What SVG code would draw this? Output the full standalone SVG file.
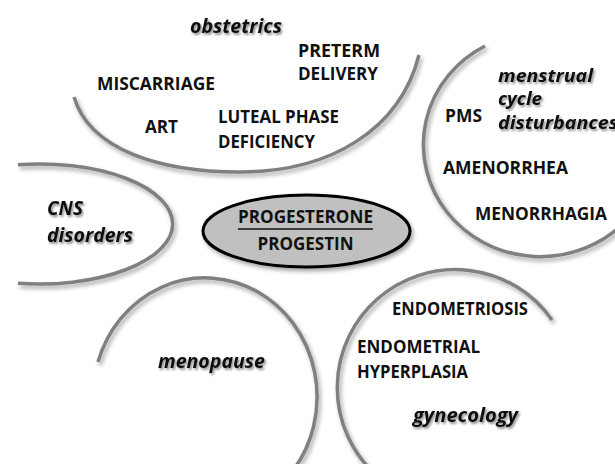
<svg xmlns="http://www.w3.org/2000/svg" width="615" height="464" viewBox="0 0 615 464">
<defs>
<filter id="arcShadow" x="-20%" y="-20%" width="140%" height="140%">
<feDropShadow dx="2" dy="3" stdDeviation="2" flood-color="#000" flood-opacity="0.35"/>
</filter>
<filter id="txtShadow" x="-10%" y="-30%" width="130%" height="170%">
<feDropShadow dx="1.5" dy="2" stdDeviation="1.2" flood-color="#000" flood-opacity="0.45"/>
</filter>
</defs>
<style>
.arc{fill:none;stroke:#808080;stroke-width:3.5;stroke-linecap:butt;filter:url(#arcShadow)}
.cap{font-family:"Open Sans","Liberation Sans",sans-serif;font-weight:bold;font-size:17px;fill:#111}
.ttl{font-family:"Open Sans","Liberation Sans",sans-serif;font-weight:bold;font-style:italic;font-size:19px;fill:#111;filter:url(#txtShadow)}
.sm{font-size:17px}
.ctr{font-family:"Open Sans","Liberation Sans",sans-serif;font-weight:bold;font-size:17px;fill:#111;text-anchor:middle}
</style>
<rect width="615" height="464" fill="#fff"/>

<g id="obstetrics">
<path class="arc" d="M74,97 C90,150 160,172 240,172 C330,172 400,130 419,55"/>
<text class="ttl" x="190" y="33" textLength="92" lengthAdjust="spacingAndGlyphs">obstetrics</text>
<text class="cap" x="298" y="57" textLength="82" lengthAdjust="spacingAndGlyphs">PRETERM</text>
<text class="cap" x="298" y="80" textLength="80" lengthAdjust="spacingAndGlyphs">DELIVERY</text>
<text class="cap" x="97" y="90" textLength="118" lengthAdjust="spacingAndGlyphs">MISCARRIAGE</text>
<text class="cap" x="145" y="133" textLength="33" lengthAdjust="spacingAndGlyphs">ART</text>
<text class="cap" x="218" y="123" textLength="121" lengthAdjust="spacingAndGlyphs">LUTEAL PHASE</text>
<text class="cap" x="218" y="148" textLength="97" lengthAdjust="spacingAndGlyphs">DEFICIENCY</text>
</g>

<g id="menstrual">
<path class="arc" d="M485,46 A117,112 0 1 0 625,222"/>
<text class="ttl sm" x="498" y="82" textLength="95" lengthAdjust="spacingAndGlyphs">menstrual</text>
<text class="ttl sm" x="498" y="105" textLength="44" lengthAdjust="spacingAndGlyphs">cycle</text>
<text class="ttl sm" x="498" y="129" textLength="120" lengthAdjust="spacingAndGlyphs">disturbances</text>
<text class="cap" x="445" y="122" textLength="37" lengthAdjust="spacingAndGlyphs">PMS</text>
<text class="cap" x="443" y="174" textLength="125" lengthAdjust="spacingAndGlyphs">AMENORRHEA</text>
<text class="cap" x="475" y="220" textLength="132" lengthAdjust="spacingAndGlyphs">MENORRHAGIA</text>
</g>

<g id="cns">
<path class="arc" d="M18,164.8 A133,60 0 1 1 18,283.2"/>
<text class="ttl" x="47" y="215" textLength="36" lengthAdjust="spacingAndGlyphs">CNS</text>
<text class="ttl" x="47" y="242" textLength="86" lengthAdjust="spacingAndGlyphs">disorders</text>
</g>

<g id="center">
<ellipse cx="306.5" cy="231" rx="103.5" ry="36" fill="#c0c0c0" stroke="#000" stroke-width="3" filter="url(#arcShadow)"/>
<text class="ctr" x="305.5" y="223" textLength="135" lengthAdjust="spacingAndGlyphs">PROGESTERONE</text>
<line x1="238" y1="229" x2="373" y2="229" stroke="#111" stroke-width="1.5"/>
<text class="ctr" x="305.5" y="250" textLength="96" lengthAdjust="spacingAndGlyphs">PROGESTIN</text>
</g>

<g id="menopause">
<path class="arc" d="M98,362 A112,119 0 1 1 293,470.6"/>
<text class="ttl" x="158" y="368" textLength="107" lengthAdjust="spacingAndGlyphs">menopause</text>
</g>

<g id="gynecology">
<path class="arc" d="M552,320 A118,118 0 1 0 376,475"/>
<text class="cap" x="392" y="315" textLength="136" lengthAdjust="spacingAndGlyphs">ENDOMETRIOSIS</text>
<text class="cap" x="357" y="353" textLength="123" lengthAdjust="spacingAndGlyphs">ENDOMETRIAL</text>
<text class="cap" x="357" y="378" textLength="111" lengthAdjust="spacingAndGlyphs">HYPERPLASIA</text>
<text class="ttl" x="413" y="422" textLength="105" lengthAdjust="spacingAndGlyphs">gynecology</text>
</g>
</svg>
